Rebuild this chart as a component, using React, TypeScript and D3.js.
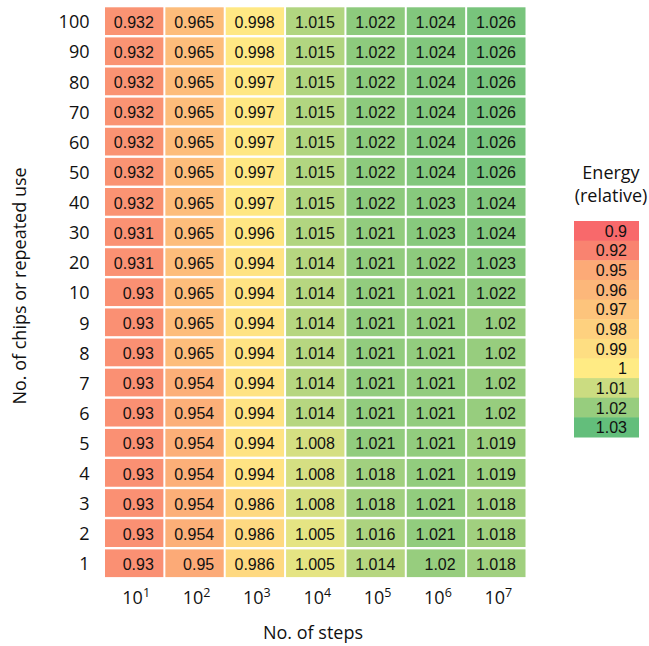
import React from "react";
import * as d3 from "d3";

const rowLabels = ["100","90","80","70","60","50","40","30","20","10","9","8","7","6","5","4","3","2","1"];
const colExponents = ["1","2","3","4","5","6","7"];
const values: number[][] = [
  [0.932, 0.965, 0.998, 1.015, 1.022, 1.024, 1.026],
  [0.932, 0.965, 0.998, 1.015, 1.022, 1.024, 1.026],
  [0.932, 0.965, 0.997, 1.015, 1.022, 1.024, 1.026],
  [0.932, 0.965, 0.997, 1.015, 1.022, 1.024, 1.026],
  [0.932, 0.965, 0.997, 1.015, 1.022, 1.024, 1.026],
  [0.932, 0.965, 0.997, 1.015, 1.022, 1.024, 1.026],
  [0.932, 0.965, 0.997, 1.015, 1.022, 1.023, 1.024],
  [0.931, 0.965, 0.996, 1.015, 1.021, 1.023, 1.024],
  [0.931, 0.965, 0.994, 1.014, 1.021, 1.022, 1.023],
  [0.93, 0.965, 0.994, 1.014, 1.021, 1.021, 1.022],
  [0.93, 0.965, 0.994, 1.014, 1.021, 1.021, 1.02],
  [0.93, 0.965, 0.994, 1.014, 1.021, 1.021, 1.02],
  [0.93, 0.954, 0.994, 1.014, 1.021, 1.021, 1.02],
  [0.93, 0.954, 0.994, 1.014, 1.021, 1.021, 1.02],
  [0.93, 0.954, 0.994, 1.008, 1.021, 1.021, 1.019],
  [0.93, 0.954, 0.994, 1.008, 1.018, 1.021, 1.019],
  [0.93, 0.954, 0.986, 1.008, 1.018, 1.021, 1.018],
  [0.93, 0.954, 0.986, 1.005, 1.016, 1.021, 1.018],
  [0.93, 0.95, 0.986, 1.005, 1.014, 1.02, 1.018],
];
const legendValues = [0.9, 0.92, 0.95, 0.96, 0.97, 0.98, 0.99, 1, 1.01, 1.02, 1.03];
const colorStops = [0.9, 1, 1.03];
const colorRange = ["#F8696B", "#FFEB84", "#63BE7B"];

const W = 649, H = 646;
const labelFont = "'Open Sans', sans-serif";
const cellFont = "'Liberation Sans', Arial, sans-serif";
const LS = 18;

export default function App() {
  const color = d3.scaleLinear<string>().domain(colorStops).range(colorRange).interpolate(d3.interpolateRgb).clamp(true);
  const x = d3.scaleBand<string>().domain(colExponents).range([104, 526.5]);
  const y = d3.scaleBand<string>().domain(rowLabels).range([6.3, 578.5]);
  const ly = d3.scaleBand<string>().domain(legendValues.map(String)).range([221, 437]);
  const fmt = (v: number) => String(+v.toFixed(3));

  return (
    <svg width={W} height={H} style={{ position: "absolute", left: 0, top: 0, background: "#fff" }}>
      <rect width={W} height={H} fill="#fff" />
      {values.map((row, ri) =>
        row.map((v, ci) => {
          const cx = x(colExponents[ci])!;
          const cy = y(rowLabels[ri])!;
          return (
            <g key={`${ri}-${ci}`}>
              <rect x={cx + 1} y={cy + 1} width={x.bandwidth() - 2} height={y.bandwidth() - 2.4} fill={color(v)} />
              <text x={cx + x.bandwidth() - 10.5} y={cy + y.bandwidth() / 2 + 6.5} textAnchor="end" fontFamily={cellFont} fontSize={16} fill="#111">
                {fmt(v)}
              </text>
            </g>
          );
        })
      )}
      {rowLabels.map((r) => (
        <text key={r} x={89.5} y={y(r)! + y.bandwidth() / 2 + 7} textAnchor="end" fontFamily={labelFont} fontSize={LS} fill="#111">
          {r}
        </text>
      ))}
      {colExponents.map((c) => (
        <text key={c} x={x(c)! + x.bandwidth() / 2 + 2} y={604} textAnchor="middle" fontFamily={labelFont} fontSize={LS} fill="#111">
          10<tspan fontSize={12.5} dy={-7}>{c}</tspan>
        </text>
      ))}
      <text x={313} y={639} textAnchor="middle" fontFamily={labelFont} fontSize={LS} fill="#111">No. of steps</text>
      <text transform={`translate(26,286) rotate(-90)`} textAnchor="middle" fontFamily={labelFont} fontSize={LS} fill="#111">
        No. of chips or repeated use
      </text>
      <text x={611} y={179} textAnchor="middle" fontFamily={labelFont} fontSize={LS} fill="#111">Energy</text>
      <text x={611} y={202} textAnchor="middle" fontFamily={labelFont} fontSize={LS} fill="#111">(relative)</text>
      {legendValues.map((v) => (
        <g key={v}>
          <rect x={574} y={ly(String(v))!} width={65} height={ly.bandwidth() + 0.5} fill={color(v)} />
          <text x={627} y={ly(String(v))! + ly.bandwidth() / 2 + 6} textAnchor="end" fontFamily={cellFont} fontSize={16} fill="#111">
            {String(v)}
          </text>
        </g>
      ))}
    </svg>
  );
}
